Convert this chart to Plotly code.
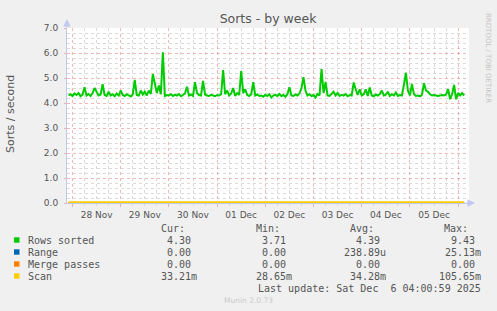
import plotly.graph_objects as go
import pandas as pd

# ---------------- data ----------------
rows_start = "2025-11-27 22:00"
rows_sorted = [
    4.30, 4.35, 4.28, 4.38, 4.32, 4.40, 4.27, 4.33, 4.63, 4.30, 4.36, 4.28,
    4.40, 4.60, 4.45, 4.30, 4.34, 4.75, 4.32, 4.28, 4.45, 4.30, 4.35, 4.27,
    4.38, 4.30, 4.50, 4.32, 4.28, 4.35, 4.30, 4.26, 4.34, 4.92, 4.32, 4.30,
    4.50, 4.34, 4.45, 4.30, 4.50, 4.36, 5.16, 4.75, 4.40, 4.70, 4.35, 6.03,
    4.28, 4.32, 4.30, 4.35, 4.28, 4.33, 4.30, 4.36, 4.27, 4.32, 4.38, 4.65,
    4.30, 4.34, 4.28, 4.83, 4.40, 4.32, 4.30, 4.88, 4.34, 4.30, 4.28, 4.33,
    4.30, 4.27, 4.32, 4.30, 4.35, 5.32, 4.35, 4.50, 4.30, 4.38, 4.60, 4.28,
    4.40, 4.32, 5.28, 4.40, 4.55, 4.32, 4.28, 4.35, 4.83, 4.30, 4.34, 4.28,
    4.30, 4.25, 4.33, 4.28, 4.35, 4.22, 4.30, 4.33, 4.27, 4.36, 4.28, 4.32,
    4.25, 4.35, 4.63, 4.30, 4.28, 4.34, 4.30, 4.38, 4.60, 5.03, 4.50, 4.30,
    4.35, 4.28, 4.32, 4.22, 4.36, 4.30, 5.36, 4.40, 4.84, 4.30, 4.28, 4.35,
    4.45, 4.30, 4.40, 4.28, 4.33, 4.30, 4.36, 4.27, 4.32, 4.30, 4.82, 4.55,
    4.32, 4.55, 4.30, 4.35, 4.55, 4.28, 4.62, 4.30, 4.27, 4.34, 4.30, 4.36,
    4.50, 4.30, 4.33, 4.45, 4.28, 4.35, 4.30, 4.42, 4.28, 4.32, 4.30, 4.72,
    5.21, 4.50, 4.30, 4.76, 4.35, 4.28, 4.30, 4.27, 4.33, 4.79, 4.50, 4.45,
    4.35, 4.30, 4.32, 4.30, 4.28, 4.30, 4.32, 4.30, 4.34, 4.56, 4.15, 4.35,
    4.72, 4.15, 4.40, 4.30, 4.40, 4.30,
]
flat_times = ["2025-11-27 22:00", "2025-11-29 12:00", "2025-12-01 12:00",
              "2025-12-03 12:00", "2025-12-05 12:00", "2025-12-06 03:00"]
range_vals = [0.0, 0.0, 0.0, 0.0, 0.0, 0.0]
merge_vals = [0.0, 0.0, 0.0, 0.0, 0.0, 0.0]
scan_vals = [0.034, 0.034, 0.035, 0.034, 0.034, 0.033]

series_names = ["Rows sorted", "Range", "Merge passes", "Scan"]
series_colors = ["#00CC00", "#0066B3", "#FF8000", "#FFCC00"]
cur_col = ["4.30\u00a0", "0.00\u00a0", "0.00\u00a0", "33.21m"]
min_col = ["3.71\u00a0", "0.00\u00a0", "0.00\u00a0", "28.65m"]
avg_col = ["4.39\u00a0", "238.89u", "0.00\u00a0", "34.28m"]
max_col = ["9.43\u00a0", "25.13m", "0.00\u00a0", "105.65m"]
headers = ["Cur:", "Min:", "Avg:", "Max:"]
last_update = "Last update: Sat Dec\u00a0\u00a06 04:00:59 2025"

x_range = ["2025-11-27 21:16", "2025-12-06 05:25"]
y_range = [0, 7]

# ---------------- geometry ----------------
W, H = 497, 311
L, R, T, B = 67, 469, 28, 203
PW, PH = R - L, B - T


def px(x):
    return (x - L) / PW


def py(y):
    return (B - y) / PH


rows_times = pd.date_range(rows_start, periods=len(rows_sorted), freq="h")

fig = go.Figure()
fig.add_trace(go.Scatter(x=rows_times, y=rows_sorted, mode="lines",
                         line=dict(color=series_colors[0], width=2), showlegend=False))
fig.add_trace(go.Scatter(x=pd.to_datetime(flat_times), y=range_vals, mode="lines",
                         line=dict(color=series_colors[1], width=1.8), showlegend=False))
fig.add_trace(go.Scatter(x=pd.to_datetime(flat_times), y=merge_vals, mode="lines",
                         line=dict(color=series_colors[2], width=1.8), showlegend=False))
fig.add_trace(go.Scatter(x=pd.to_datetime(flat_times), y=scan_vals, mode="lines",
                         line=dict(color=series_colors[3], width=2), showlegend=False))

tick_font = dict(family="DejaVu Sans", size=9, color="#555555")
major_grid = "rgba(235,110,110,0.5)"
minor_grid = "#DADADA"
axis_col = "#C0C8F0"

fig.update_layout(
    width=W, height=H,
    margin=dict(l=L, r=W - R, t=T, b=H - B, pad=0),
    paper_bgcolor="#F0F0F0", plot_bgcolor="#FFFFFF",
    title=dict(text="Sorts - by week", x=0.5, xanchor="center", xref="paper",
               y=1 - 19 / H, yanchor="middle",
               font=dict(family="DejaVu Sans", size=12.5, color="#555555")),
    xaxis=dict(type="date", range=x_range, tickmode="linear",
               tick0="2025-11-28", dtick=86400000, ticklabelmode="period",
               tickformat="%d %b", tickfont=tick_font,
               showgrid=True, gridcolor=major_grid, griddash="dot", gridwidth=1,
               ticks="outside", ticklen=3, tickcolor=major_grid,
               minor=dict(dtick=6 * 3600000, showgrid=True, gridcolor=minor_grid,
                          griddash="dot", ticks="outside", ticklen=2, tickcolor=minor_grid),
               showline=True, linecolor=axis_col, linewidth=1, zeroline=False,
               fixedrange=True),
    yaxis=dict(range=y_range, tickmode="linear", tick0=0, dtick=1,
               tickformat=".1f", tickfont=tick_font,
               showgrid=True, gridcolor=major_grid, griddash="dot", gridwidth=1,
               ticks="outside", ticklen=2, tickcolor=major_grid,
               ticklabelstandoff=4,
               minor=dict(dtick=0.2, showgrid=True, gridcolor=minor_grid, griddash="dot"),
               showline=True, linecolor=axis_col, linewidth=1, zeroline=False,
               fixedrange=True),
)

ann = []
# y axis title
ann.append(dict(text="Sorts / second", x=px(10), y=py(114), xref="paper", yref="paper",
                showarrow=False, textangle=-90, xanchor="center", yanchor="middle",
                font=dict(family="DejaVu Sans", size=11, color="#555555")))
# rrdtool credit
ann.append(dict(text="RRDTOOL / TOBI OETIKER", x=px(488), y=py(58), xref="paper", yref="paper",
                showarrow=False, textangle=90, xanchor="center", yanchor="middle",
                font=dict(family="DejaVu Sans", size=7, color="#C4C4C4")))
# axis arrows
ann.append(dict(text="", x=px(67), y=py(19), ax=0, ay=10, xref="paper", yref="paper",
                axref="pixel", ayref="pixel", showarrow=True, arrowhead=2, arrowsize=1,
                arrowwidth=1.5, arrowcolor=axis_col))
ann.append(dict(text="", x=px(475), y=py(203), ax=-10, ay=0, xref="paper", yref="paper",
                axref="pixel", ayref="pixel", showarrow=True, arrowhead=2, arrowsize=1,
                arrowwidth=1.5, arrowcolor=axis_col))

mono = dict(family="DejaVu Sans Mono", size=10, color="#555555")
header_x = [187, 282, 376, 470]
col_x = [199, 294, 388, 483]
for hx, h in zip(header_x, headers):
    ann.append(dict(text=h, x=px(hx), y=py(228.5), xref="paper", yref="paper",
                    showarrow=False, xanchor="right", yanchor="middle", font=mono))

shapes = []
row_y = [240, 252, 264, 276]
for i, name in enumerate(series_names):
    yy = row_y[i]
    shapes.append(dict(type="rect", xref="paper", yref="paper",
                       x0=px(14), x1=px(19.5), y0=py(yy + 2.7), y1=py(yy - 2.7),
                       fillcolor=series_colors[i], line=dict(width=0)))
    ann.append(dict(text=name, x=px(26), y=py(yy), xref="paper", yref="paper",
                    showarrow=False, xanchor="left", yanchor="middle", font=mono))
    for cx, col in zip(col_x, [cur_col, min_col, avg_col, max_col]):
        ann.append(dict(text=col[i], x=px(cx), y=py(yy), xref="paper", yref="paper",
                        showarrow=False, xanchor="right", yanchor="middle", font=mono))

ann.append(dict(text=last_update, x=px(483), y=py(288), xref="paper", yref="paper",
                showarrow=False, xanchor="right", yanchor="middle", font=mono))
ann.append(dict(text="Munin 2.0.73", x=px(248), y=py(300), xref="paper", yref="paper",
                showarrow=False, xanchor="center", yanchor="middle",
                font=dict(family="DejaVu Sans", size=7.5, color="#CACACA")))

fig.update_layout(annotations=ann, shapes=shapes)
fig.write_html("out.html")
